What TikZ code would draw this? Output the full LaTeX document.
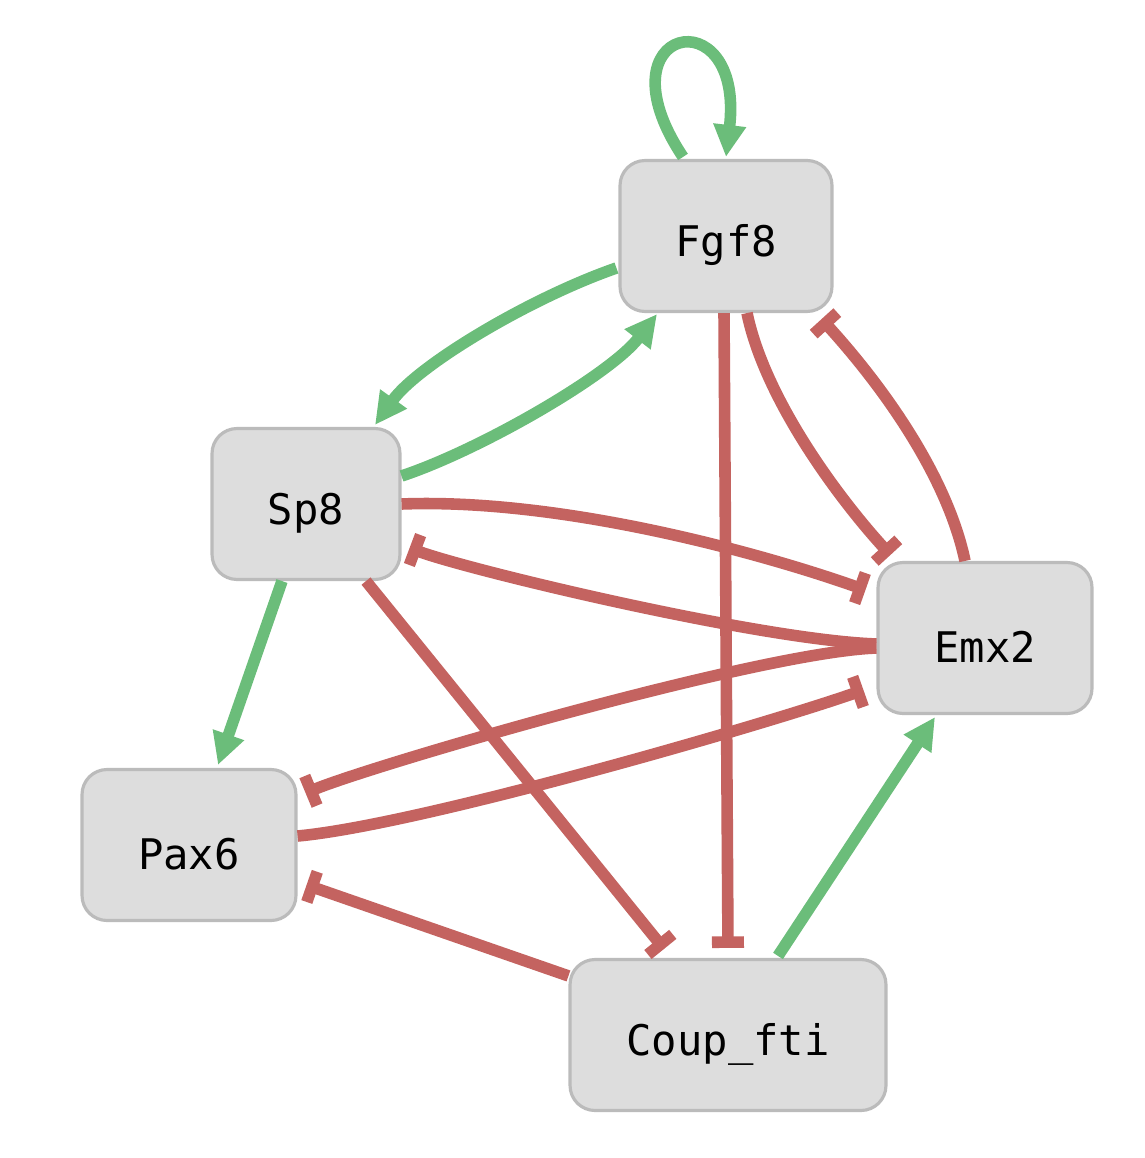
\documentclass[tikz,border=0pt]{standalone}
\usepackage{fontspec}
\newfontfamily\genemono{DejaVu Sans Mono}
\usetikzlibrary{arrows.meta}
\definecolor{actgreen}{HTML}{6BBD7A}
\definecolor{inhred}{HTML}{C46360}
\definecolor{nodefill}{HTML}{DDDDDD}
\definecolor{nodeline}{HTML}{BBBBBB}
\newcommand{\genelabel}[1]{\raisebox{-0.18cm}[\height][\depth]{#1}}
\tikzset{
  gene/.style={draw=nodeline, line width=1.8pt, fill=nodefill, rounded corners=0.5cm,
    minimum height=3.02cm, inner sep=0pt, font=\genemono\fontsize{24}{28}\selectfont},
  act/.style={draw=actgreen, line width=6.6pt, -{Triangle[length=0.64cm,width=0.62cm]}},
  inh/.style={draw=inhred, line width=6.6pt, -{Bar[width=0.64cm]}},
}
\begin{document}
\begin{tikzpicture}[x=0.02cm,y=-0.02cm]
\useasboundingbox (0,0) rectangle (1144,1158);
\node[gene, minimum width=4.24cm] (fgf) at (726,236) {\genelabel{Fgf8}};
\node[gene, minimum width=3.76cm] (sp) at (306,504) {\genelabel{Sp8}};
\node[gene, minimum width=4.28cm] (emx) at (985,638) {\genelabel{Emx2}};
\node[gene, minimum width=4.28cm] (pax) at (189,845) {\genelabel{Pax6}};
\node[gene, minimum width=6.32cm] (coup) at (728,1035) {\genelabel{Coup\_fti}};
% self loop
\draw[act] ([shift={(-43,-2)}]fgf.north) .. controls (595,25) and (745,-5) .. ([shift={(0,-2)}]fgf.north);
% Fgf8 -> Sp8
\draw[act] ([shift={(-2,32)}]fgf.west) .. controls (530,298) and (418,365) .. ([shift={(69,-2)}]sp.north);
% Sp8 -> Fgf8
\draw[act] ([shift={(0,-28)}]sp.east) .. controls (480,450) and (610,375) .. ([shift={(-69,1)}]fgf.south);
% Fgf8 -| Coup_fti
\draw[inh] ([shift={(-2,0)}]fgf.south) -- ([shift={(0,-10)}]coup.north);
% Fgf8 -| Emx2
\draw[inh] ([shift={(21,0)}]fgf.south) .. controls (765,400) and (840,500) .. ([shift={(14,-6)}]emx.north west);
% Emx2 -| Fgf8
\draw[inh] ([shift={(-20,0)}]emx.north) .. controls (948,480) and (888,392) .. ([shift={(-12,6)}]fgf.south east);
% Sp8 -| Emx2
\draw[inh] (sp.east) .. controls (560,498) and (758,552) .. ([shift={(-11,-48)}]emx.west);
% Emx2 -| Sp8
\draw[inh] ([shift={(0,6)}]emx.west) .. controls (760,640) and (468,570) .. ([shift={(8,44)}]sp.east);
% Emx2 -| Pax6
\draw[inh] ([shift={(0,10)}]emx.west) .. controls (760,652) and (373,765) .. ([shift={(8,-52)}]pax.east);
% Pax6 -| Emx2
\draw[inh] ([shift={(0,-9)}]pax.east) .. controls (420,825) and (773,722) .. ([shift={(-13,52)}]emx.west);
% Sp8 -> Pax6
\draw[act] ([shift={(-24,0)}]sp.south) -- ([shift={(29,-3)}]pax.north);
% Sp8 -| Coup_fti
\draw[inh] ([shift={(60,0)}]sp.south) -- ([shift={(-64,-9)}]coup.north);
% Coup_fti -| Pax6
\draw[inh] ([shift={(0,18)}]coup.north west) -- ([shift={(9,40)}]pax.east);
% Coup_fti -> Emx2
\draw[act] ([shift={(50,-2)}]coup.north) -- ([shift={(-50,2)}]emx.south);
\end{tikzpicture}
\end{document}
